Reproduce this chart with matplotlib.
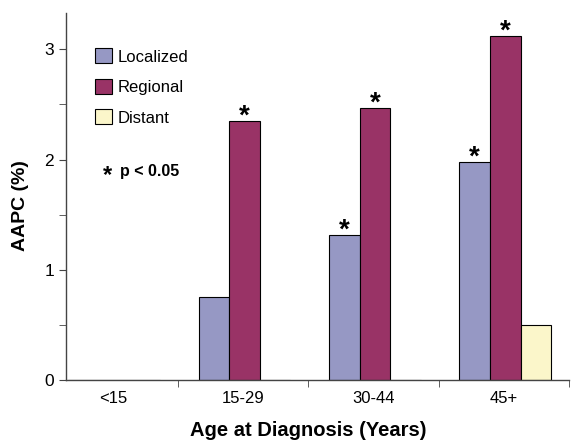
import numpy as np
import matplotlib
matplotlib.use("Agg")
import matplotlib.pyplot as plt
from matplotlib.patches import Patch

plt.rcParams["font.family"] = ["Liberation Sans", "DejaVu Sans"]

categories = ["<15", "15-29", "30-44", "45+"]
series = ["Localized", "Regional", "Distant"]
localized = [0.0, 0.75, 1.32, 1.98]
regional = [0.0, 2.35, 2.47, 3.12]
distant = [0.0, 0.0, 0.0, 0.50]
sig_localized = [False, False, True, True]
sig_regional = [False, True, True, True]
sig_distant = [False, False, False, False]

colors = ["#9698C4", "#993366", "#FBF6CA"]

fig = plt.figure(figsize=(5.71, 4.42), dpi=100)
ax = fig.add_axes([0.1156, 0.140, 0.881, 0.831])

x = np.arange(len(categories))
w = 0.235
vals = [localized, regional, distant]
sigs = [sig_localized, sig_regional, sig_distant]
for i, (v, s, c) in enumerate(zip(vals, sigs, colors)):
    pos = x + (i - 1) * w + 0.01
    ax.bar(pos, v, width=w, color=c, edgecolor="black", linewidth=0.8)
    for p, val, flag in zip(pos, v, s):
        if flag:
            ax.annotate("*", (p, val), xytext=(0, -6.5), textcoords="offset points",
                        ha="center", va="bottom", fontsize=20, fontweight="bold")

ax.set_xlim(-0.36, 3.5)
ax.set_ylim(0, 3.33)
ax.set_yticks([0, 1, 2, 3])
ax.set_yticks([0.5, 1.5, 2.5], minor=True)
ax.set_xticks(x)
ax.set_xticklabels(categories, fontsize=12)
ax.set_xticks([0.5, 1.5, 2.5, 3.5], minor=True)
ax.tick_params(axis="x", which="major", length=0, pad=8)
ax.tick_params(axis="x", which="minor", length=5, direction="out", color="#444444")
ax.tick_params(axis="y", which="both", length=5, direction="out", color="#444444",
               labelsize=12.5)

for side in ["top", "right"]:
    ax.spines[side].set_visible(False)
for side in ["left", "bottom"]:
    ax.spines[side].set_color("#444444")
    ax.spines[side].set_linewidth(1.0)

ax.set_ylabel("AAPC (%)", fontsize=14, fontweight="bold", va="center")
ax.yaxis.set_label_coords(-0.0895, 0.474)
ax.set_xlabel("Age at Diagnosis (Years)", fontsize=14.5, fontweight="bold", va="center")
ax.xaxis.set_label_coords(0.481, -0.136)

handles = [Patch(facecolor=c, edgecolor="black", linewidth=0.8) for c in colors]
ax.legend(handles, series, loc="upper left", bbox_to_anchor=(0.058, 0.903),
          frameon=False, fontsize=12, handlelength=1.0, handleheight=1.0,
          handletextpad=0.35, labelspacing=0.86, borderaxespad=0, borderpad=0)

ax.text(0.0815, 0.556, "*", transform=ax.transAxes, fontsize=17, fontweight="bold",
        ha="center", va="center")
ax.text(0.107, 0.567, "p < 0.05", transform=ax.transAxes, fontsize=11.5,
        fontweight="bold", ha="left", va="center")

fig.savefig("out.png", dpi=100)
